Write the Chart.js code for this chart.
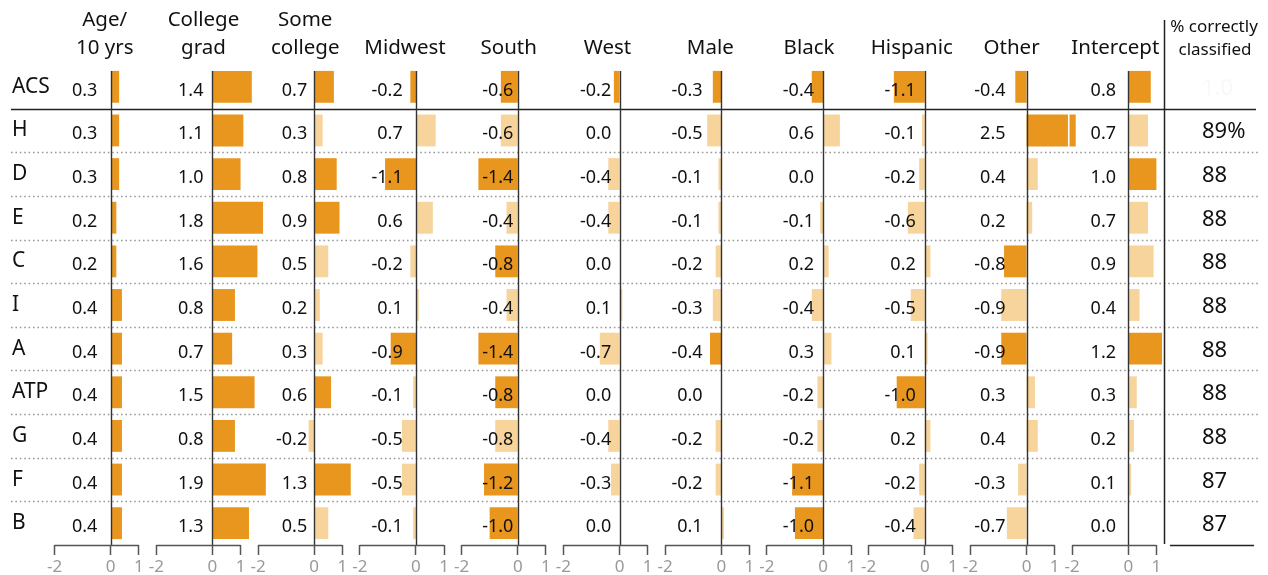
<!DOCTYPE html>
<html>
<head>
<meta charset="utf-8">
<script src="https://cdn.jsdelivr.net/npm/chart.js@4.4.1/dist/chart.umd.min.js"></script>
<style>
html,body{margin:0;padding:0;background:#fff;}
#c{display:block;}
</style>
</head>
<body>
<canvas id="c" width="1268" height="575"></canvas>
<script>
// ---------- DATA ----------
const rowLabels = ['ACS','H','D','E','C','I','A','ATP','G','F','B'];
const panelTitles = [['Age/','10 yrs'],['College','grad'],['Some','college'],['Midwest'],['South'],['West'],['Male'],['Black'],['Hispanic'],['Other'],['Intercept']];
const axisTickValues = [-2, 0, 1];

const ageValues       = [0.3, 0.3, 0.3, 0.2, 0.2, 0.4, 0.4, 0.4, 0.4, 0.4, 0.4];
const collegeValues   = [1.4, 1.1, 1.0, 1.8, 1.6, 0.8, 0.7, 1.5, 0.8, 1.9, 1.3];
const someColValues   = [0.7, 0.3, 0.8, 0.9, 0.5, 0.2, 0.3, 0.6, -0.2, 1.3, 0.5];
const midwestValues   = [-0.2, 0.7, -1.1, 0.6, -0.2, 0.1, -0.9, -0.1, -0.5, -0.5, -0.1];
const southValues     = [-0.6, -0.6, -1.4, -0.4, -0.8, -0.4, -1.4, -0.8, -0.8, -1.2, -1.0];
const westValues      = [-0.2, 0.0, -0.4, -0.4, 0.0, 0.1, -0.7, 0.0, -0.4, -0.3, 0.0];
const maleValues      = [-0.3, -0.5, -0.1, -0.1, -0.2, -0.3, -0.4, 0.0, -0.2, -0.2, 0.1];
const blackValues     = [-0.4, 0.6, 0.0, -0.1, 0.2, -0.4, 0.3, -0.2, -0.2, -1.1, -1.0];
const hispanicValues  = [-1.1, -0.1, -0.2, -0.6, 0.2, -0.5, 0.1, -1.0, 0.2, -0.2, -0.4];
const otherValues     = [-0.4, 2.5, 0.4, 0.2, -0.8, -0.9, -0.9, 0.3, 0.4, -0.3, -0.7];
const interceptValues = [0.8, 0.7, 1.0, 0.7, 0.9, 0.4, 1.2, 0.3, 0.2, 0.1, 0.0];

// 1 = statistically significant (dark), 0 = not (light)
const ageSig       = [1,1,1,1,1,1,1,1,1,1,1];
const collegeSig   = [1,1,1,1,1,1,1,1,1,1,1];
const someColSig   = [1,0,1,1,0,0,0,1,0,1,0];
const midwestSig   = [1,0,1,0,0,0,1,0,0,0,0];
const southSig     = [1,0,1,0,1,0,1,1,0,1,1];
const westSig      = [1,0,0,0,0,0,0,0,0,0,0];
const maleSig      = [1,0,0,0,0,0,1,0,0,0,0];
const blackSig     = [1,0,0,0,0,0,0,0,0,1,1];
const hispanicSig  = [1,0,0,0,0,0,0,1,0,0,0];
const otherSig     = [1,1,0,0,1,0,1,0,0,0,0];
const interceptSig = [1,0,1,0,0,0,1,0,0,0,0];

const classifiedText = ['1.0','89%','88','88','88','88','88','88','88','87','87'];
const classifiedTitle = ['% correctly','classified'];

// ---------- LAYOUT / STYLE ----------
const FONT = '"Noto Sans", "Liberation Sans", sans-serif';
const DARK = '#E8961E', LIGHT = '#F6D49C';
const AREA_L = 50, AREA_R = 1260, FIRST_ZERO = 110.7, PPU = 28.1, STEP_PX = 101.76;
const STEP = STEP_PX / PPU;
const xMin = -(FIRST_ZERO - AREA_L) / PPU;
const xMax = xMin + (AREA_R - AREA_L) / PPU;
const TRUNC_LIMIT = 2, TRUNC_SHOW = 1.75, TRUNC_BREAK = 1.5;
const labelGap = [13.4, 9, 7, 13.3, 4.4, 8.3, 18.6, 9, 9, 21, 12.3];
const headerDx = [-6, -9, -9, -11, -9, -12, -11, -14, -13, -15, -13];

const panelValues = [ageValues, collegeValues, someColValues, midwestValues, southValues, westValues, maleValues, blackValues, hispanicValues, otherValues, interceptValues];
const panelSig = [ageSig, collegeSig, someColSig, midwestSig, southSig, westSig, maleSig, blackSig, hispanicSig, otherSig, interceptSig];

const datasets = panelValues.map((vals, p) => ({
  label: panelTitles[p].join(' '),
  data: vals.map(v => [p * STEP, p * STEP + (v > TRUNC_LIMIT ? TRUNC_SHOW : v)]),
  backgroundColor: panelSig[p].map(s => s ? DARK : LIGHT),
  borderWidth: 0,
  grouped: false,
  barPercentage: 0.73,
  categoryPercentage: 1
}));

const tickVals = [];
panelValues.forEach((_, p) => axisTickValues.forEach(t => tickVals.push(p * STEP + t)));

const overlay = {
  id: 'overlay',
  beforeDatasetsDraw(chart) {
    const ctx = chart.ctx, ys = chart.scales.y;
    ctx.save();
    for (let i = 0; i < rowLabels.length - 1; i++) {
      const y = Math.round((ys.getPixelForValue(i) + ys.getPixelForValue(i + 1)) / 2) + 0.5;
      ctx.beginPath();
      if (i === 0) { ctx.setLineDash([]); ctx.strokeStyle = '#222'; ctx.lineWidth = 1.5; ctx.moveTo(11, y); ctx.lineTo(1256, y); }
      else { ctx.setLineDash([1.6, 2.8]); ctx.strokeStyle = '#999'; ctx.lineWidth = 1.6; ctx.moveTo(11, y); ctx.lineTo(1259, y); }
      ctx.stroke();
    }
    ctx.restore();
  },
  afterDatasetsDraw(chart) {
    const ctx = chart.ctx, xs = chart.scales.x, ys = chart.scales.y, area = chart.chartArea;
    const band = ys.getPixelForValue(1) - ys.getPixelForValue(0);
    const half = band * 0.73 / 2;
    ctx.save();
    // truncated bar breaks
    panelValues.forEach((vals, p) => vals.forEach((v, i) => {
      if (v > TRUNC_LIMIT) {
        const x = xs.getPixelForValue(p * STEP + TRUNC_BREAK);
        const y = ys.getPixelForValue(i);
        ctx.fillStyle = '#fff';
        ctx.fillRect(x - 0.75, y - half - 1, 1.6, half * 2 + 2);
      }
    }));
    // zero lines and axis segments
    panelValues.forEach((_, p) => {
      const x0 = Math.round(xs.getPixelForValue(p * STEP)) + 0.5;
      ctx.strokeStyle = '#333'; ctx.lineWidth = 1.4;
      ctx.beginPath(); ctx.moveTo(x0, ys.getPixelForValue(0) - half); ctx.lineTo(x0, area.bottom); ctx.stroke();
      const xa = xs.getPixelForValue(p * STEP - 2), xb = xs.getPixelForValue(p * STEP + 1);
      ctx.strokeStyle = '#555'; ctx.lineWidth = 1.5;
      ctx.beginPath(); ctx.moveTo(xa, area.bottom + 0.5); ctx.lineTo(xb, area.bottom + 0.5); ctx.stroke();
    });
    // value labels
    ctx.fillStyle = '#111';
    ctx.font = '18px ' + FONT;
    ctx.textAlign = 'right'; ctx.textBaseline = 'alphabetic';
    panelValues.forEach((vals, p) => {
      const x0 = xs.getPixelForValue(p * STEP);
      vals.forEach((v, i) => {
        ctx.fillText(v.toFixed(1), x0 - labelGap[p], ys.getPixelForValue(i) + 9);
      });
    });
    // headers
    ctx.font = '20.5px ' + FONT; ctx.textAlign = 'center';
    panelTitles.forEach((t, p) => {
      const cx = xs.getPixelForValue(p * STEP) + headerDx[p];
      if (t.length === 2) { ctx.fillText(t[0], cx, 26); ctx.fillText(t[1], cx, 54); }
      else ctx.fillText(t[0], cx, 54);
    });
    // % correctly classified column
    const sepX = area.right - 95.5;
    ctx.strokeStyle = '#222'; ctx.lineWidth = 1.5;
    ctx.beginPath(); ctx.moveTo(sepX, 20); ctx.lineTo(sepX, area.bottom - 1); ctx.stroke();
    ctx.beginPath(); ctx.moveTo(area.right - 90, area.bottom + 0.5); ctx.lineTo(area.right - 6, area.bottom + 0.5); ctx.stroke();
    ctx.font = '17px ' + FONT; ctx.textAlign = 'center';
    ctx.fillText(classifiedTitle[0], area.right - 46, 32);
    ctx.fillText(classifiedTitle[1], area.right - 45, 55);
    ctx.font = '22px ' + FONT; ctx.textAlign = 'left';
    classifiedText.forEach((s, i) => {
      ctx.fillStyle = i === 0 ? '#f8f8f8' : '#111';
      ctx.fillText(s, area.right - 58, ys.getPixelForValue(i) + 8);
    });
    ctx.restore();
  }
};

new Chart(document.getElementById('c'), {
  type: 'bar',
  data: { labels: rowLabels, datasets },
  options: {
    responsive: false,
    animation: false,
    indexAxis: 'y',
    layout: { padding: { left: 12, right: 8, top: 65, bottom: 0 } },
    plugins: { legend: { display: false }, tooltip: { enabled: false } },
    scales: {
      x: {
        type: 'linear', position: 'bottom', min: xMin, max: xMax,
        afterBuildTicks: s => { s.ticks = tickVals.map(v => ({ value: v })); },
        afterFit: s => { s.height = 30; },
        grid: { drawOnChartArea: false, drawTicks: true, tickLength: 10, tickColor: '#555', tickWidth: 1.5 },
        border: { display: false },
        ticks: {
          autoSkip: false, maxRotation: 0, minRotation: 0, padding: 2,
          color: '#999', font: { family: FONT, size: 17 },
          callback: (val) => {
            const p = Math.round((val + 0.5) / STEP);
            return String(Math.round(val - p * STEP));
          }
        }
      },
      y: {
        type: 'category',
        afterFit: s => { s.width = 38; },
        grid: { display: false },
        border: { display: false },
        ticks: { crossAlign: 'far', padding: 0, color: '#111', font: { family: FONT, size: 21 } }
      }
    }
  },
  plugins: [overlay]
});
</script>
</body>
</html>
